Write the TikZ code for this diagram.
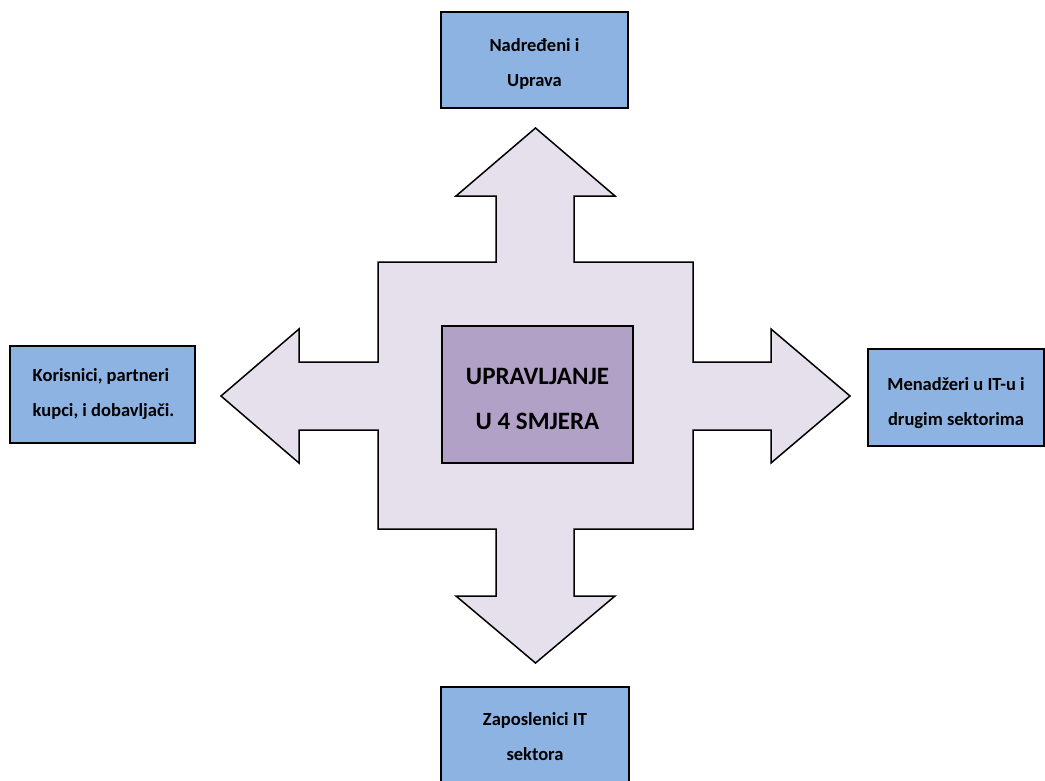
\documentclass[tikz,border=0pt]{standalone}
\usepackage{fontspec}
\setmainfont{Carlito}
\definecolor{crossfill}{HTML}{E5E0EC}
\definecolor{centerfill}{HTML}{B2A1C7}
\definecolor{boxfill}{HTML}{8DB3E2}
\newcommand\mystrut[1]{\rule{0pt}{#1}}
\begin{document}
\begin{tikzpicture}[x=1pt,y=-1pt,
  bluebox/.style={draw=black,line width=1.6pt,fill=boxfill,inner sep=0pt,
    font={\fontsize{18.5}{35}\selectfont\bfseries},text=black},
  centerbox/.style={draw=black,line width=1.6pt,fill=centerfill,inner sep=0pt,
    minimum width=191pt,minimum height=137pt,align=center,
    font={\fontsize{25}{45}\selectfont\bfseries}},
  crossshape/.style={draw=black,line width=1.5pt,fill=crossfill,line join=miter}]
\useasboundingbox (0,0) rectangle (1045,780);
% four-way arrow
\draw[crossshape] (535.5,128) -- (615,196) -- (574,196) -- (574,262) -- (693,262)
  -- (693,362) -- (771,362) -- (771,329) -- (850,396) -- (771,463) -- (771,430)
  -- (693,430) -- (693,529) -- (574,529) -- (574,596) -- (615,596) -- (535.5,663)
  -- (456,596) -- (496,596) -- (496,529) -- (378,529) -- (378,430) -- (299,430)
  -- (299,463) -- (221,396) -- (299,329) -- (299,362) -- (378,362) -- (378,262)
  -- (496,262) -- (496,196) -- (456,196) -- cycle;
% centre
\node[centerbox] (center) at (537.5,394.5) {\mystrut{26pt}UPRAVLJANJE\\U 4 SMJERA};
% boxes
\node[bluebox,minimum width=187pt,minimum height=96pt,align=center] (top) at (534.5,60)
  {\mystrut{21pt}Nadređeni i\\Uprava};
\node[bluebox,minimum width=185pt,minimum height=97pt,align=left] (left) at (102.5,394.5)
  {\hspace*{2pt}Korisnici, partneri\\\hspace*{2pt}kupci, i dobavljači.};
\node[bluebox,minimum width=176pt,minimum height=97pt,align=center] (right) at (956,397.5)
  {\mystrut{23.5pt}Menadžeri u IT-u i\\drugim sektorima};
\node[bluebox,minimum width=188pt,minimum height=100pt,align=center] (bottom) at (535,737)
  {Zaposlenici IT\\sektora};
\end{tikzpicture}
\end{document}
